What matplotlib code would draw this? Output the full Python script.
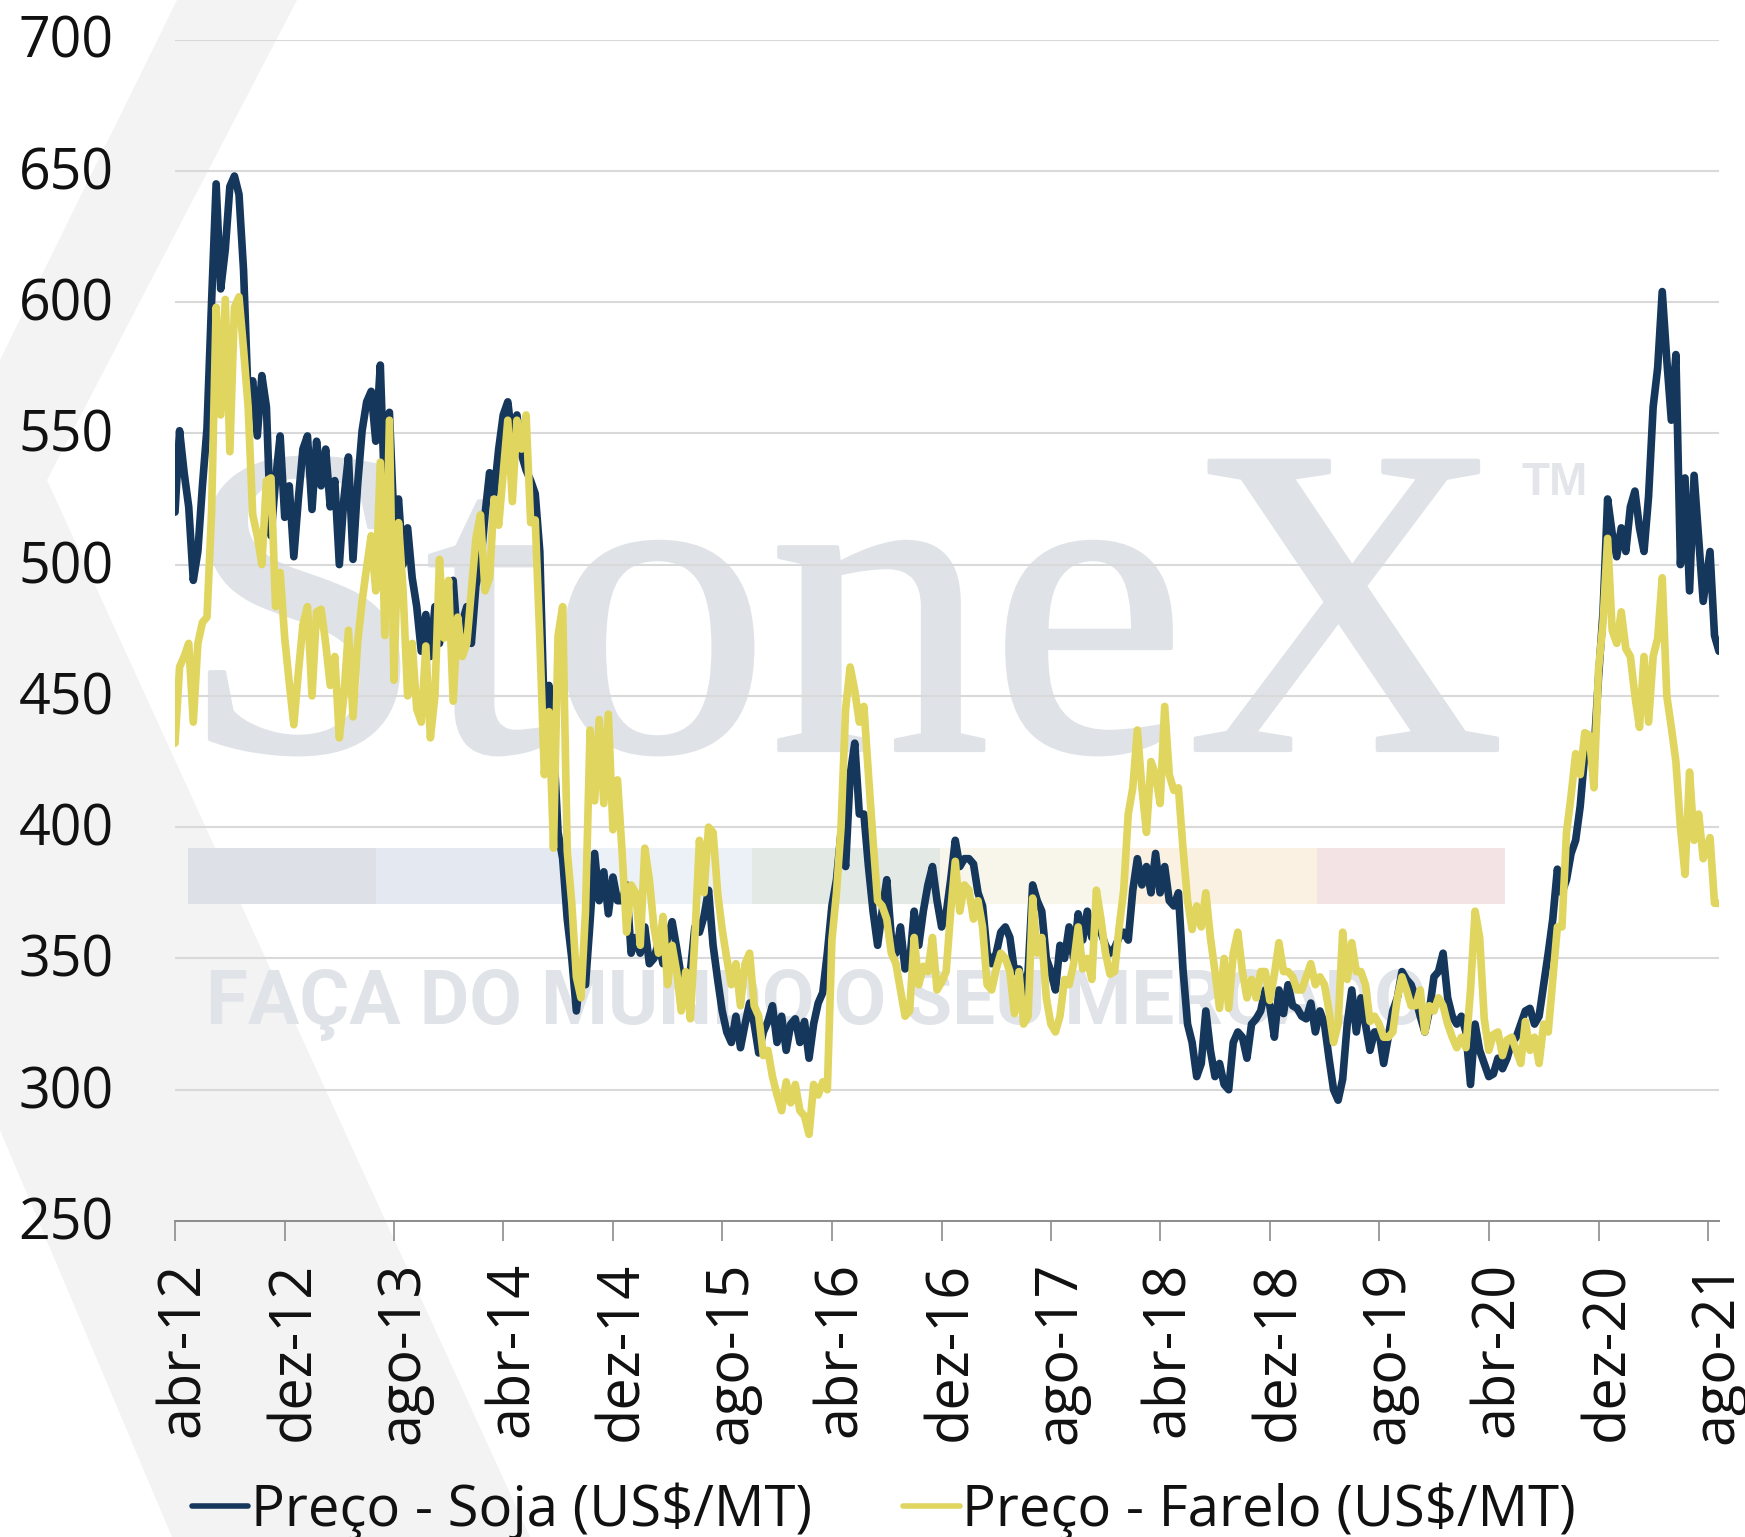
import numpy as np
import pandas as pd
import matplotlib
matplotlib.use("Agg")
import matplotlib.pyplot as plt
import matplotlib.patheffects as pe
from matplotlib.patches import Polygon, Rectangle
from matplotlib.transforms import ScaledTranslation, Affine2D

W, H = 1745, 1537
tick_dates = ["2012-04-01","2012-12-01","2013-08-01","2014-04-01","2014-12-01","2015-08-01","2016-04-01",
              "2016-12-01","2017-08-01","2018-04-01","2018-12-01","2019-08-01","2020-04-01","2020-12-01","2021-08-01"]
tick_labels = ["abr-12","dez-12","ago-13","abr-14","dez-14","ago-15","abr-16",
               "dez-16","ago-17","abr-18","dez-18","ago-19","abr-20","dez-20","ago-21"]
y_ticks = [250,300,350,400,450,500,550,600,650,700]

soja_a = [520,551,535,522,494,505,530,552,600,645,605,620,644,648,641,612,563,570,549,572,560,511,532,549]
soja_b = [518,530,503,525,544,549,521,547,530,544,522,532,500,525,541,502,530,551,562,566,547,576,524,558]
soja_c = [516,525,500,514,495,484,467,481,465,484,470,484,480,494,470,478,484,470,492,500,519,535,527,544]
soja_d = [557,562,547,557,542,536,532,527,505,440,454,432,398,388,365,350,330,346,340,364,390,372,383,367]
soja_e = [381,372,372,378,352,358,352,362,348,350,356,348,358,364,354,343,333,345,362,360,366,376,355,342]
soja_f = [330,322,318,328,316,325,333,325,314,322,326,332,318,328,315,325,327,318,326,312,325,333,337,352]
soja_g = [370,380,398,385,420,432,405,405,385,368,355,368,380,358,352,362,346,348,368,355,368,378,385,372]
soja_h = [362,367,380,395,385,388,388,386,375,370,352,348,352,360,362,358,345,346,335,345,378,372,368,350]
soja_i = [345,338,355,350,362,350,367,357,368,358,366,360,355,352,354,358,360,357,376,388,378,385,375,390]
soja_j = [375,385,372,370,375,346,325,318,305,310,330,315,305,310,302,300,318,322,320,312,325,327,330,338]
soja_k = [332,320,338,329,340,332,331,328,327,333,322,330,325,312,300,296,304,325,338,322,335,325,315,322]
soja_l = [322,310,320,330,335,345,342,340,335,328,322,330,343,345,352,335,328,325,328,322,302,325,315,310]
soja_m = [305,306,312,308,312,318,320,325,330,331,325,328,340,352,365,384,375,380,390,395,408,428,430,428]
soja_n = [457,482,525,512,503,514,505,522,528,514,505,526,560,575,604,578,555,580,500,533,490,534,510,486]
soja_o = [505,473,467]

farelo_a = [432,461,465,470,440,470,478,480,520,598,557,601,543,598,602,582,560,519,511,500,532,533,484,497]
farelo_b = [472,455,439,459,477,484,450,482,483,470,454,465,434,450,475,442,470,486,499,511,490,539,473,555]
farelo_c = [456,516,490,450,470,445,440,469,434,450,502,472,494,448,480,465,470,490,510,519,490,495,525,515]
farelo_d = [535,555,524,555,544,557,516,517,472,420,444,392,473,484,391,371,343,335,368,437,410,441,409,443]
farelo_e = [399,418,391,360,378,375,355,392,380,362,352,366,340,355,345,330,345,327,358,395,375,400,398,375]
farelo_f = [361,350,340,348,332,348,352,332,328,313,315,305,298,292,303,295,302,292,290,283,302,298,303,300]
farelo_g = [357,375,400,445,461,452,440,446,420,395,372,370,365,352,348,338,328,330,358,340,347,345,358,338]
farelo_h = [341,345,368,387,368,378,376,365,372,362,340,338,346,352,350,345,329,345,325,328,373,352,358,335]
farelo_i = [325,322,328,342,340,348,362,346,350,342,376,365,352,344,345,362,376,405,415,437,415,398,425,420]
farelo_j = [409,446,420,414,415,392,372,361,370,362,375,358,345,331,350,331,352,360,345,335,342,335,345,345]
farelo_k = [334,344,356,345,345,343,338,338,343,348,340,343,340,330,318,325,360,342,356,345,345,340,326,328]
farelo_l = [325,320,320,322,335,343,338,332,332,338,322,332,330,335,332,325,320,316,320,316,338,368,358,327]
farelo_m = [315,321,322,313,319,320,315,310,326,315,320,310,325,322,342,362,362,398,412,428,420,436,435,415]
farelo_n = [460,478,510,475,470,482,468,465,450,438,465,440,465,472,495,450,438,425,400,382,421,395,405,388]
farelo_o = [396,371,371]

soja_parts = [soja_a,soja_b,soja_c,soja_d,soja_e,soja_f,soja_g,soja_h,soja_i,soja_j,soja_k,soja_l,soja_m,soja_n]
farelo_parts = [farelo_a,farelo_b,farelo_c,farelo_d,farelo_e,farelo_f,farelo_g,farelo_h,farelo_i,farelo_j,farelo_k,farelo_l,farelo_m,farelo_n]
tail_days = [5, 15, 25]

ticks = pd.to_datetime(tick_dates)
def build(parts, tail):
    xs, ys = [], []
    for i, p in enumerate(parts):
        d0, d1 = ticks[i], ticks[i+1]
        span = (d1-d0).days
        for k, v in enumerate(p):
            xs.append(d0 + pd.Timedelta(days=span*k/len(p)))
            ys.append(v)
    for d, v in zip(tail_days, tail):
        xs.append(ticks[-1] + pd.Timedelta(days=d))
        ys.append(v)
    return pd.DatetimeIndex(xs), np.array(ys, float)

plt.rcParams['font.family'] = ['Open Sans', 'DejaVu Sans']
fig = plt.figure(figsize=(W/100, H/100), dpi=100, facecolor='white')

px = Affine2D().scale(1/W, -1/H).translate(0, 1) + fig.transFigure

# watermark
fig.add_artist(Polygon([(177,0),(297,0),(47,480),(530,1537),(172,1537),(0,1130),(0,360)],
                       closed=True, transform=px, fc='#f3f3f4', ec='none', zorder=-5))
strip_colors = ['#dde1e7','#e4e9f1','#ecf1f8','#e3eae6','#f8f6ea','#faf1e2','#f3e3e4']
sx0, sw = 188, 188.1
for i, c in enumerate(strip_colors):
    fig.add_artist(Rectangle((sx0+i*sw, 848), sw, 56, transform=px, fc=c, ec='none', zorder=-4))
wm = fig.text(180/W, 1-750/H, "StoneX", family='Liberation Serif', fontsize=318, color='#dfe2e7',
              ha='left', va='baseline', zorder=-3)
wm.set_path_effects([pe.withStroke(linewidth=3, foreground='#dfe2e7')])
fig.text(1522/W, 1-495/H, "TM", family='Liberation Sans', fontweight='bold', fontsize=33, color='#e3e5ea',
         ha='left', va='baseline', zorder=-3)
fig.text(206/W, 1-1024/H, "FAÇA DO MUNDO O SEU MERCADO", family='Roboto', fontweight='bold',
         fontsize=55, color='#e0e3e8', ha='left', va='baseline', zorder=-3)

ax = fig.add_axes([175/W, 1-1221/H, (1719-175)/W, (1221-39.5)/H])
ax.patch.set_alpha(0)
x, y1 = build(soja_parts, soja_o)
x2, y2 = build(farelo_parts, farelo_o)
ax.plot(x, y1, color='#15375c', lw=5.5, solid_joinstyle='round', solid_capstyle='round', label='Preço - Soja (US$/MT)', zorder=3)
ax.plot(x2, y2, color='#e0d55f', lw=5.5, solid_joinstyle='round', solid_capstyle='round', label='Preço - Farelo (US$/MT)', zorder=4)

ax.set_ylim(250, 700)
ax.set_xlim(ticks[0], x[-1])
ax.set_yticks(y_ticks)
ax.set_xticks(ticks)
ax.set_xticklabels(tick_labels, rotation=90, ha='center', va='top')
for s in ['top','left','right']:
    ax.spines[s].set_visible(False)
ax.spines['bottom'].set_color('#8c8c8c')
ax.spines['bottom'].set_linewidth(1.4)
ax.grid(axis='y', color='#d9d9d9', lw=1.5, zorder=1)
ax.set_axisbelow(True)
ax.tick_params(axis='y', length=0, pad=44, labelsize=40, labelcolor='#111111')
ax.tick_params(axis='x', length=14.4, width=1.2, color='#8c8c8c', pad=15, labelsize=41.5, labelcolor='#111111')
off = ScaledTranslation(9/100, 0, fig.dpi_scale_trans)
for lab in ax.get_xticklabels():
    lab.set_transform(lab.get_transform() + off)
yoff = ScaledTranslation(0, 3/100, fig.dpi_scale_trans)
for lab in ax.get_yticklabels():
    lab.set_transform(lab.get_transform() + yoff)

leg = fig.legend(loc='lower left', bbox_to_anchor=(192/W, 1-1537/H-3/H), ncol=2, frameon=False, fontsize=40.5,
                 handlelength=1.0, handletextpad=0.05, columnspacing=1.62, borderpad=0, borderaxespad=0)
for t in leg.get_texts():
    t.set_color('#111111')
for l in leg.get_lines():
    l.set_linewidth(4)

fig.savefig('out.png', dpi=100)
